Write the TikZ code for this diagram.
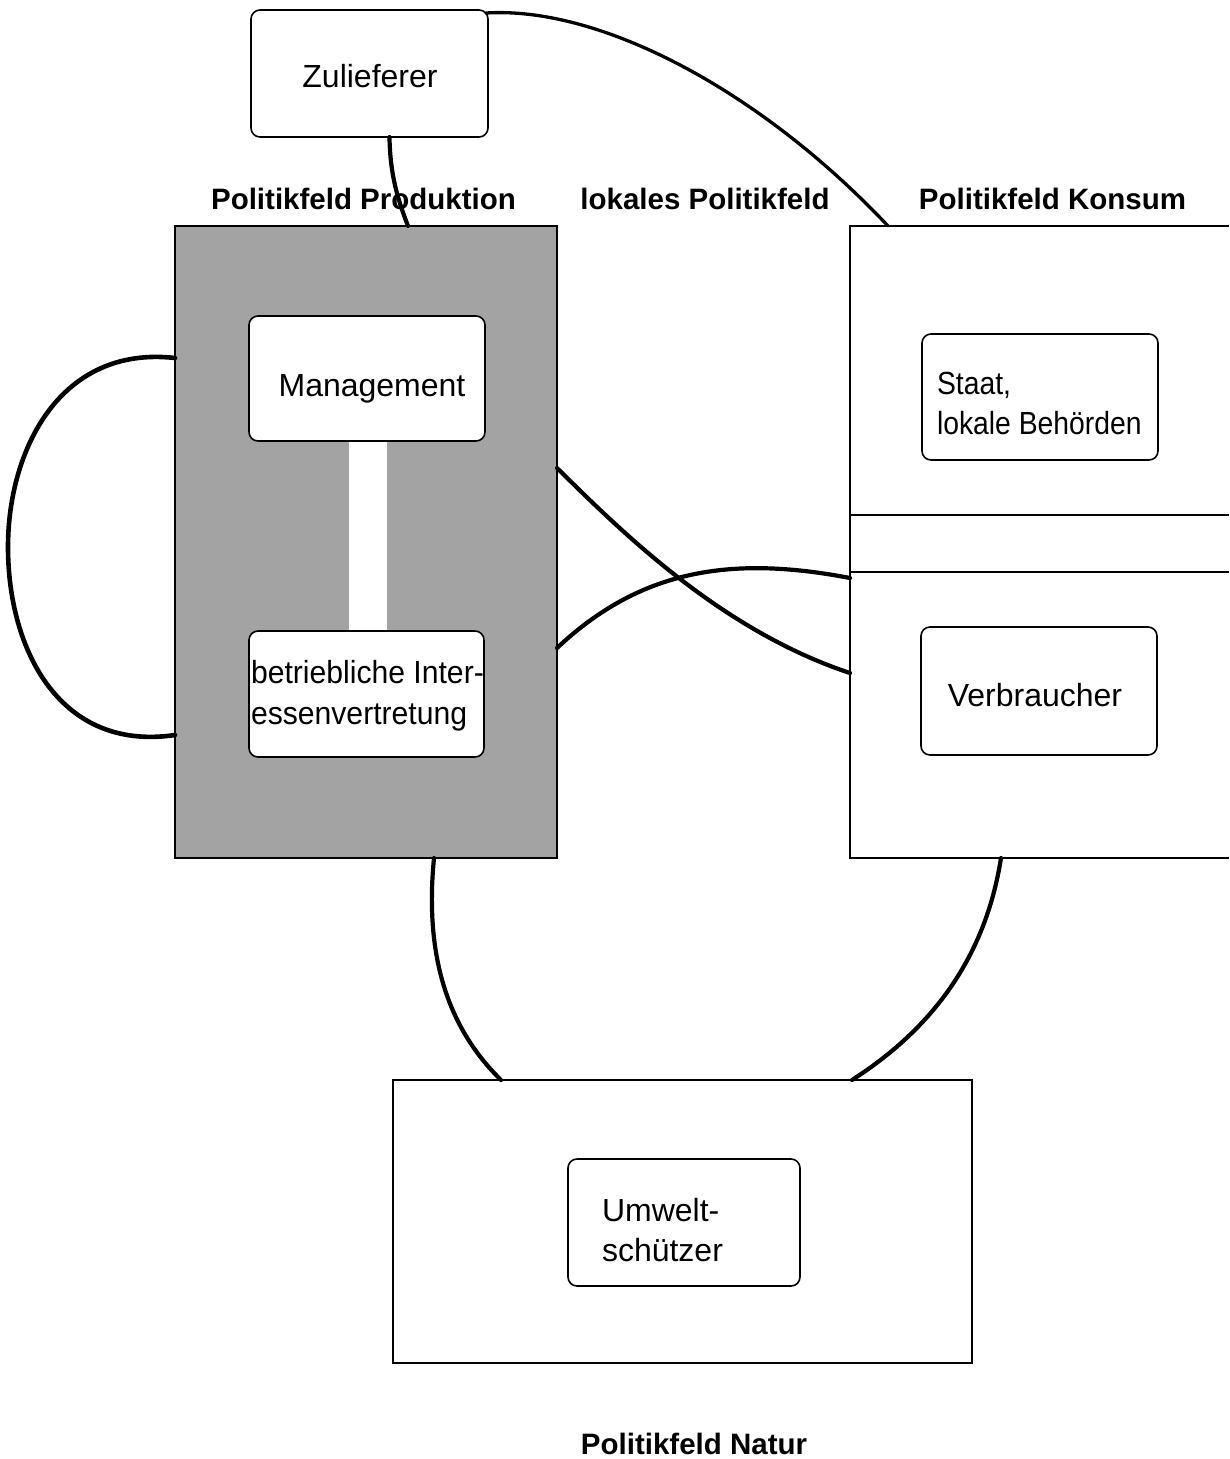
\documentclass[tikz,border=0pt]{standalone}
\usepackage{fontspec}
\setmainfont{Liberation Sans}
\usetikzlibrary{calc}
\begin{document}
\begin{tikzpicture}[x=1pt,y=-1pt,
  box/.style={draw=black,line width=1.6pt,rounded corners=9pt,fill=white,inner sep=0pt,outer sep=0pt},
  field/.style={draw=black,line width=1.5pt,inner sep=0pt,outer sep=0pt},
  txt/.style={inner sep=0pt,outer sep=0pt,font=\fontsize{32}{41}\selectfont},
  head/.style={inner sep=0pt,outer sep=0pt,anchor=base,font=\fontsize{29.5}{36}\selectfont\bfseries},
  link/.style={line width=4.2pt,black,line cap=round}]
\useasboundingbox (0,0) rectangle (1229,1459);
\fill[white] (0,0) rectangle (1229,1459);

% fields
\node[field,fill=black!36,minimum width=382pt,minimum height=632pt] (prod) at (366,542) {};
\node[inner sep=0pt,outer sep=0pt,minimum width=382pt,minimum height=632pt] (kons) at (1041,542) {};
\draw[line width=1.5pt] (1229,226) -- (kons.north west) -- (kons.south west) -- (1229,858);
\coordinate (k1) at (850,515);
\coordinate (k2) at (850,572);
\draw[line width=1.5pt] (k1) -- (1229,515);
\draw[line width=1.5pt] (k2) -- (1229,572);
\node[field,fill=white,minimum width=579pt,minimum height=283pt] (natur) at (682.5,1221.5) {};

% white bar between management and works council
\node[fill=white,inner sep=0pt,outer sep=0pt,minimum width=38pt,minimum height=192pt] (bar) at (368,536) {};

% actor boxes
\node[box,minimum width=237pt,minimum height=127pt] (zul) at (369.5,73.5) {};
\node[box,minimum width=236pt,minimum height=125pt] (mgmt) at (367,378.5) {};
\node[box,minimum width=235pt,minimum height=126pt] (betr) at (366.5,694) {};
\node[box,minimum width=236pt,minimum height=126pt] (staat) at (1040,397) {};
\node[box,minimum width=236pt,minimum height=128pt] (verb) at (1039,691) {};
\node[box,minimum width=232pt,minimum height=127pt] (umw) at (684,1222.5) {};

% texts
\node[txt,anchor=base] (tzul) at (370,87) {Zulieferer};
\node[txt,anchor=base] (tmgmt) at (372,396) {Management};
\node[txt,anchor=base west] (tbetr1) at (251,683) {\scalebox{0.942}[1]{betriebliche Inter-}};
\node[txt,anchor=base west] (tbetr2) at (251,724) {\scalebox{0.942}[1]{essenvertretung}};
\node[txt,anchor=base west] (tstaat1) at (937,394) {\scalebox{0.885}[1]{Staat,}};
\node[txt,anchor=base west] (tstaat2) at (937,434) {\scalebox{0.885}[1]{lokale Behörden}};
\node[txt,anchor=base] (tverb) at (1035,706) {Verbraucher};
\node[txt,anchor=base west] (tumw1) at (602,1221) {Umwelt-};
\node[txt,anchor=base west] (tumw2) at (602,1261) {schützer};

% headings
\node[head] (hprod) at (363.5,209) {Politikfeld Produktion};
\node[head] (hlok) at (705,209) {lokales Politikfeld};
\node[head] (hkons) at (1052.5,209) {Politikfeld Konsum};
\node[head] (hnat) at (694,1454) {Politikfeld Natur};

% connectors
\draw[link,line width=3.3pt] ($(zul.north east)+(-2,3)$) .. controls (600,6) and (760,90) .. ($(kons.north west)+(38,0)$);
\draw[link] ($(zul.south)+(20,0)$) .. controls (390,175) and (398,200) .. ($(prod.north)+(42,0)$);
\draw[link,line width=4.6pt] (prod.west |- 0,358) .. controls (60,345) and (8,450) .. (8,547)
   .. controls (8,650) and (60,752) .. (prod.west |- 0,735);
\draw[link] (prod.east |- 0,468) .. controls (620,530) and (720,630) .. (kons.west |- 0,673);
\draw[link] (prod.east |- 0,648) .. controls (640,570) and (730,555) .. (kons.west |- 0,578);
\draw[link] ($(prod.south)+(68,0)$) .. controls (424,960) and (450,1030) .. ($(natur.north west)+(108,0)$);
\draw[link] ($(kons.south west)+(151,0)$) .. controls (985,960) and (930,1030) .. ($(natur.north west)+(459,0)$);
\end{tikzpicture}
\end{document}
